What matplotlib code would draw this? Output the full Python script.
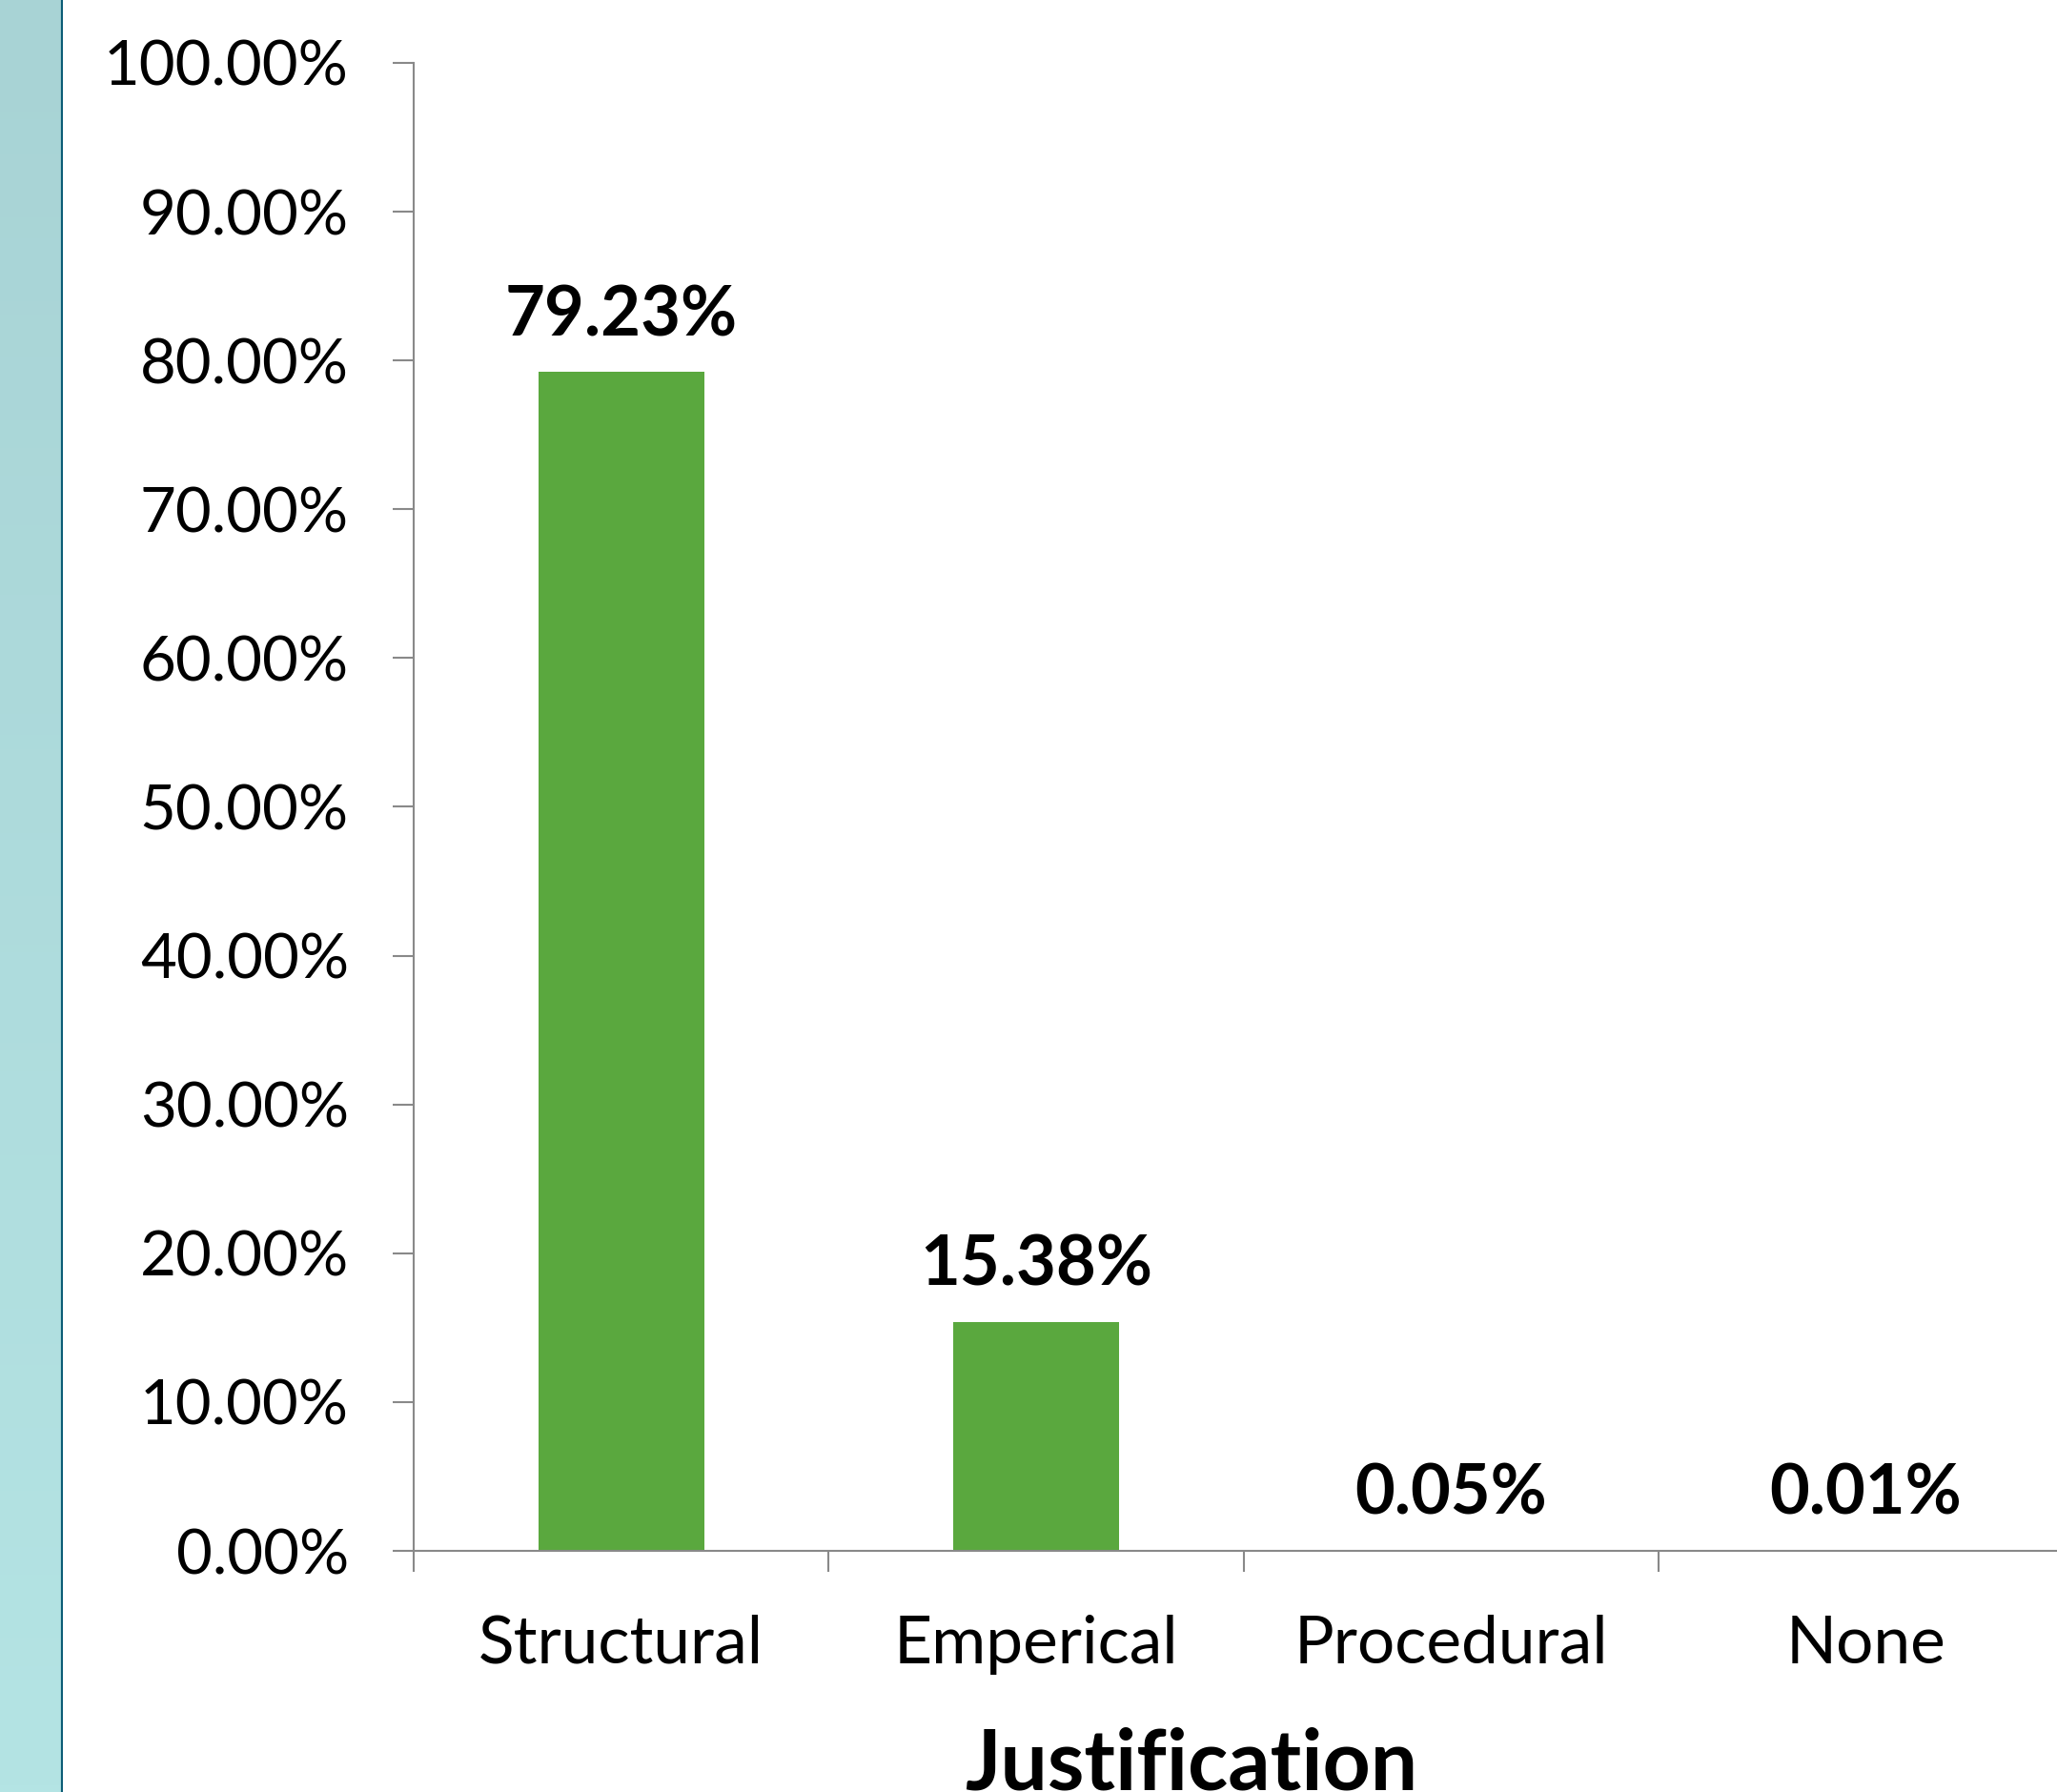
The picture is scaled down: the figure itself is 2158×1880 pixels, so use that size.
import numpy as np
import matplotlib
matplotlib.use("Agg")
import matplotlib.pyplot as plt
from matplotlib.ticker import FixedLocator, FuncFormatter
from matplotlib.colors import LinearSegmentedColormap

plt.rcParams["font.family"] = ["Lato", "DejaVu Sans"]

categories = ["Structural", "Emperical", "Procedural", "None"]
values = [79.23, 15.38, 0.05, 0.01]
value_labels = ["79.23%", "15.38%", "0.05%", "0.01%"]
y_ticks = [0, 10, 20, 30, 40, 50, 60, 70, 80, 90, 100]

W, H = 2158, 1880
fig = plt.figure(figsize=(W / 100, H / 100), dpi=100)

# teal side strip
strip = fig.add_axes([0, 0, 66 / W, 1])
grad = np.linspace(0, 1, 256).reshape(-1, 1)
cmap = LinearSegmentedColormap.from_list("strip", ["#b4e4e4", "#a8d3d5"])
strip.imshow(grad, aspect="auto", cmap=cmap, origin="lower", extent=[0, 1, 0, 1])
strip.axvline(1, color="#0b5c76", linewidth=3)
strip.set_xlim(0, 1)
strip.set_axis_off()

ax = fig.add_axes([434 / W, 1 - 1627 / H, (2175 - 434) / W, (1627 - 66) / H])
x = np.arange(len(categories))
ax.bar(x, values, width=0.40, color="#5aa83e")

for xi, v, lab in zip(x, values, value_labels):
    ax.annotate(lab, (xi, v), xytext=(0, 18), textcoords="offset points",
                ha="center", va="bottom", fontsize=52, fontweight="bold")

ax.set_xlim(-0.5, len(categories) - 0.5)
ax.set_ylim(0, 100)
ax.set_yticks(y_ticks)
ax.yaxis.set_major_formatter(FuncFormatter(lambda v, p: "%.2f%%" % v))
ax.set_xticks(x)
ax.set_xticklabels(categories)
ax.xaxis.set_minor_locator(FixedLocator(np.arange(len(categories)) - 0.5))

for s in ["top", "right"]:
    ax.spines[s].set_visible(False)
for s in ["left", "bottom"]:
    ax.spines[s].set_color("#898989")
    ax.spines[s].set_linewidth(1.5)

ax.tick_params(axis="y", length=16, width=1.5, color="#898989", pad=33, labelsize=47)
ax.tick_params(axis="x", which="major", length=0, pad=48, labelsize=50)
ax.tick_params(axis="x", which="minor", length=16, width=1.5, color="#898989")

ax.set_xlabel("Justification", fontsize=63, fontweight="bold")
ax.xaxis.set_label_coords((1250 - 434) / (2175 - 434), -0.118)

fig.savefig("out.png", dpi=100)
